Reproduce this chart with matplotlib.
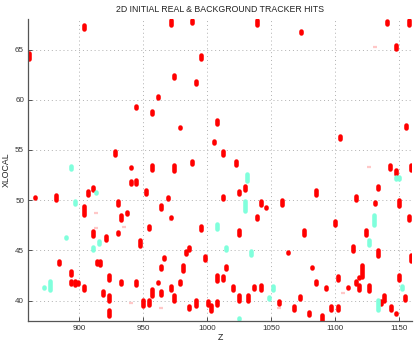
import matplotlib
matplotlib.use("Agg")
import matplotlib.pyplot as plt
import numpy as np

# Real (red) hits: Z position, XLOCAL position, vertical extent
real_z = [860.5, 903.5, 944.2, 956.7, 961.2, 971.3, 973.7, 988.2, 990.9, 995.3,
          1039, 1073, 1140.4, 1147.5, 1157.6, 978.3, 1007.8, 1005.2, 1012.2, 1103.9,
          1155.1, 927.8, 957, 973.9, 988.2, 1022.1, 1143, 1147.7, 1159.5, 865,
          881.7, 906.4, 910.6, 903.8, 929.9, 937.4, 932.5, 940.1, 944.4, 940.1,
          951.8, 964, 969, 971.3, 1012.2, 1024.5, 1029.2, 1041.7, 1045.8, 1039,
          1058.6, 1084.9, 1116.2, 1133.2, 1130.8, 1150.1, 1157.4, 1099.6, 954.4, 995.3,
          910.6, 929.9, 920.8, 947.1, 985.9, 983.3, 997.9, 966.3, 1024.5, 1063,
          1075.3, 1123.8, 1113.6, 1133.2, 1159.5, 884, 893.4, 893.4, 896.3, 898.6,
          903.5, 913.7, 915.8, 918.2, 923.1, 923.1, 923.1, 932.5, 944.4, 949.4,
          954.4, 957, 964, 961.2, 964, 971.5, 973.7, 978.3, 980.7, 985.9,
          990.9, 1000.5, 1002.6, 1007.8, 1007.8, 1012.2, 1014.6, 1019.8, 1024.5, 1031.5,
          1036.4, 1041.7, 1056.2, 1067.7, 1072.6, 1079.7, 1082, 1084.7, 1089.9, 1092.5,
          1096.9, 1101.9, 1101.9, 1110, 1116.2, 1118.8, 1118.8, 1121.1, 1126.1, 1135.8,
          1138.1, 1143.3, 1147.5, 1150.1, 1154.7]
real_x = [64.36, 67.27, 59.23, 58.77, 60.26, 67.73, 62.28, 67.76, 61.75, 64.23,
          67.73, 66.74, 67.73, 65.25, 67.73, 57.25, 57.74, 55.76, 54.71, 56.22,
          57.29, 54.74, 53.22, 53.22, 53.77, 53.74, 53.28, 52.78, 53.28, 50.24,
          50.24, 50.70, 51.20, 48.98, 49.75, 48.75, 48.26, 51.79, 51.79, 53.25,
          50.77, 49.28, 50.24, 48.26, 50.24, 50.77, 51.26, 49.75, 49.25, 48.26,
          49.75, 50.77, 50.24, 51.26, 49.75, 49.75, 48.26, 47.76, 47.27, 47.27,
          46.73, 46.73, 46.27, 45.74, 45.24, 44.78, 44.25, 44.25, 46.77, 44.78,
          46.77, 46.77, 45.24, 44.78, 44.25, 43.75, 42.76, 41.77, 41.77, 41.77,
          41.27, 43.75, 43.75, 40.75, 42.27, 40.25, 38.73, 41.77, 41.77, 39.78,
          39.78, 40.77, 43.26, 41.77, 40.77, 41.27, 40.25, 41.77, 43.26, 39.28,
          39.78, 39.78, 39.28, 39.78, 42.27, 42.27, 43.26, 41.27, 40.25, 40.25,
          41.27, 41.27, 39.78, 39.28, 40.29, 38.77, 43.26, 41.77, 38.27, 41.27,
          39.28, 39.28, 42.27, 41.27, 41.77, 42.27, 41.27, 42.97, 41.27, 39.78,
          40.29, 39.28, 38.77, 42.27, 40.25]
real_h = [0.6, 0.4, 0.2, 0.3, 0.2, 0.5, 0.3, 0.3, 0.3, 0.4,
          0.5, 0.2, 0.3, 0.3, 0.5, 0.15, 0.4, 0.2, 0.4, 0.3,
          0.3, 0.4, 0.5, 0.6, 0.3, 0.4, 0.4, 0.4, 0.5, 0.1,
          0.5, 0.4, 0.3, 0.9, 0.4, 0.15, 0.5, 0.3, 0.4, 0.15,
          0.4, 0.4, 0.15, 0.1, 0.3, 0.3, 0.4, 0.4, 0.15, 0.3,
          0.5, 0.5, 0.4, 0.3, 0.2, 0.6, 0.4, 0.4, 0.3, 0.4,
          0.5, 0.2, 0.4, 0.5, 0.3, 0.3, 0.4, 0.15, 0.5, 0.15,
          0.5, 0.5, 0.5, 0.6, 0.6, 0.3, 0.4, 0.3, 0.4, 0.2,
          0.4, 0.3, 0.4, 0.4, 0.5, 0.6, 0.6, 0.3, 0.4, 0.6,
          0.5, 0.7, 0.3, 0.1, 0.4, 0.4, 0.6, 0.3, 0.6, 0.3,
          0.6, 0.4, 0.6, 0.4, 0.6, 0.4, 0.3, 0.4, 0.6, 0.6,
          0.3, 0.5, 0.3, 0.4, 0.3, 0.3, 0.1, 0.3, 0.6, 0.2,
          0.4, 0.4, 0.4, 0.1, 0.3, 0.1, 0.5, 1.2, 0.6, 0.3,
          0.6, 0.4, 0.1, 0.5, 0.4]

# Background (cyan) hits
bkg_z = [893.6, 1031.2, 1147.8, 1149.8, 913.2, 896.3, 1029.4, 1130.5, 1007.5, 889.2,
         915.5, 910.6, 1014.6, 1033.9, 1126.1, 872, 876.7, 1024.5, 1051, 1048.4,
         1133.2, 1135.8, 1152.4]
bkg_x = [53.28, 52.26, 52.22, 52.22, 50.74, 49.78, 49.41, 47.99, 47.35, 46.27,
         45.74, 45.24, 45.24, 44.78, 45.78, 41.27, 41.47, 38.27, 41.27, 40.25,
         39.55, 42.76, 41.27]
bkg_h = [0.3, 0.7, 0.2, 0.2, 0.1, 0.3, 1.0, 1.0, 0.5, 0.15,
         0.3, 0.3, 0.3, 0.4, 0.5, 0.1, 0.9, 0.1, 0.4, 0.15,
         1.0, 0.05, 0.3]

# Faint hits
faint_z = [1130.8, 912.7, 913.0, 934.8, 1126.4, 940.0, 964.0, 1056.2, 1106.0, 971.5]
faint_x = [65.28, 48.75, 47.20, 47.30, 53.28, 39.78, 39.30, 39.30, 40.75, 48.05]

xticks = [900, 950, 1000, 1050, 1100, 1150]
yticks = [40, 45, 50, 55, 60, 65]

plt.rcParams['font.family'] = ['Liberation Sans', 'DejaVu Sans']

fig = plt.figure(figsize=(4.15, 3.46), dpi=100)
ax = fig.add_axes([0.068, 0.073, 0.925, 0.871])

ax.grid(True, color='#b0b0b0', linestyle=(0, (1, 3)), linewidth=0.7)
ax.set_axisbelow(True)

ax.plot(faint_z, faint_x, linestyle='none', marker='_', markersize=3.5,
        markeredgewidth=1.6, color='#ffc8c8', clip_on=True)

rz = np.array(real_z); rx = np.array(real_x); rh = np.array(real_h)
lc = ax.vlines(rz, rx - rh / 2, rx + rh / 2, colors='#ff0000', linewidth=3.3)
lc.set_capstyle('round')

bz = np.array(bkg_z); bx = np.array(bkg_x); bh = np.array(bkg_h)
lc2 = ax.vlines(bz, bx - bh / 2, bx + bh / 2, colors='#80ffdc', linewidth=3.3)
lc2.set_capstyle('round')

ax.set_xlim(860, 1160)
ax.set_ylim(38, 68)
ax.set_xticks(xticks)
ax.set_yticks(yticks)
ax.tick_params(direction='in', length=3, width=0.6, labelsize=5.8,
               colors='#333333', pad=3)
for s in ['top', 'right']:
    ax.spines[s].set_visible(False)
for s in ['left', 'bottom']:
    ax.spines[s].set_color('#555555')
    ax.spines[s].set_linewidth(0.9)

ax.set_title('2D INITIAL REAL & BACKGROUND TRACKER HITS', fontsize=6.3,
             color='#222222', pad=5)
ax.set_xlabel('Z', fontsize=6.3, color='#222222', labelpad=1)
ax.set_ylabel('XLOCAL', fontsize=6.3, color='#222222', labelpad=3)

fig.savefig('out.png', dpi=100)
